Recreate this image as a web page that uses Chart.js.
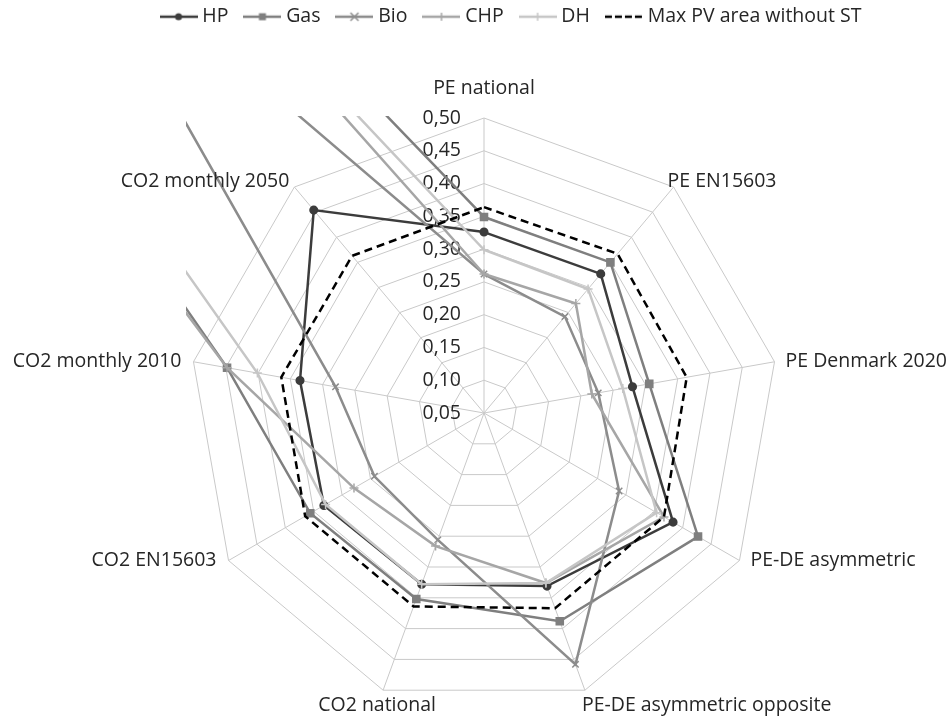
<!DOCTYPE html>
<html>
<head>
<meta charset="utf-8">
<title>Radar</title>
<script src="https://cdn.jsdelivr.net/npm/chart.js@4.4.1/dist/chart.umd.min.js"></script>
<style>
  html, body { margin: 0; padding: 0; background: #fff; }
  #wrap { width: 952px; height: 717px; position: relative; }
</style>
</head>
<body>
<div id="wrap"><canvas id="radarChart"></canvas></div>
<script>
// 轴标签（九个指标）
const axisLabels = [
    'PE national', 'PE EN15603', 'PE Denmark 2020', 'PE-DE asymmetric',
    'PE-DE asymmetric opposite', 'CO2 national', 'CO2 EN15603',
    'CO2 monthly 2010', 'CO2 monthly 2050'
];

// 刻度标签（0,05 在中心）
const tickLabels = ['0,05', '0,10', '0,15', '0,20', '0,25', '0,30', '0,35', '0,40', '0,45', '0,50'];

// 各系列数值
const hpValues  = [0.326, 0.327, 0.280, 0.383, 0.331, 0.328, 0.332, 0.335, 0.454];
const gasValues = [0.349, 0.350, 0.306, 0.427, 0.388, 0.352, 0.356, 0.448, 3.10];
const bioValues = [0.262, 0.242, 0.227, 0.288, 0.458, 0.256, 0.243, 0.280, 1.03];
const chpValues = [0.262, 0.268, 0.217, 0.367, 0.326, 0.266, 0.279, 0.448, 5.00];
const dhValues  = [0.299, 0.297, 0.265, 0.354, 0.326, 0.328, 0.329, 0.401, 3.00];
const maxPvValues = [0.364, 0.367, 0.364, 0.367, 0.367, 0.364, 0.365, 0.364, 0.363];

const seriesNames = ['HP', 'Gas', 'Bio', 'CHP', 'DH', 'Max PV area without ST'];
const seriesData = [hpValues, gasValues, bioValues, chpValues, dhValues, maxPvValues];

// 样式
const FONT = "'Open Sans', sans-serif";
const FONT_SIZE = 19.5;
const TEXT_COLOR = '#262626';
const seriesColors = ['#3c3c3c', '#7f7f7f', '#8c8c8c', '#a6a6a6', '#c6c6c6', '#000000'];
const seriesMarkers = ['circle', 'rect', 'crossRot', 'cross', 'cross', false];
const markerRadius = { circle: 3.8, rect: 5, crossRot: 4.5, cross: 4.5 };

// 轴标签相对顶点的偏移
const labelOffsets = [
    [0, -30, 'center'], [-6, -6, 'left'], [11, 0, 'left'], [11, 0, 'left'],
    [-3, 15, 'left'], [-6, 15, 'center'], [-12, 0, 'right'], [-12, 0, 'right'], [-5, -6, 'right']
];

// 图例图标：线段加标记
function makeLegendIcon(color, marker, dashed) {
    const c = document.createElement('canvas');
    c.width = 38;
    c.height = 14;
    const g = c.getContext('2d');
    g.strokeStyle = color;
    g.fillStyle = color;
    g.lineWidth = 2.5;
    if (dashed) g.setLineDash([7, 3]);
    g.beginPath();
    g.moveTo(0, 7);
    g.lineTo(38, 7);
    g.stroke();
    g.setLineDash([]);
    const x = 19, y = 7;
    if (marker === 'circle') {
        g.beginPath();
        g.arc(x, y, 3.5, 0, Math.PI * 2);
        g.fill();
    } else if (marker === 'rect') {
        g.fillRect(x - 3.5, y - 3.5, 7, 7);
    } else if (marker === 'crossRot') {
        g.lineWidth = 1.5;
        g.beginPath();
        g.moveTo(x - 4, y - 4); g.lineTo(x + 4, y + 4);
        g.moveTo(x + 4, y - 4); g.lineTo(x - 4, y + 4);
        g.stroke();
    } else if (marker === 'cross') {
        g.lineWidth = 1.5;
        g.beginPath();
        g.moveTo(x, y - 4); g.lineTo(x, y + 4);
        g.moveTo(x - 4, y); g.lineTo(x + 4, y);
        g.stroke();
    }
    return c;
}

const legendIcons = seriesNames.map((n, i) => makeLegendIcon(seriesColors[i], seriesMarkers[i], i === 5));

// 后面的系列画在上层（与原图一致）
const datasets = seriesNames.map((name, i) => ({
    label: name,
    data: seriesData[i],
    borderColor: seriesColors[i],
    backgroundColor: seriesColors[i],
    borderWidth: 2.5,
    borderDash: i === 5 ? [8, 5] : [],
    pointStyle: seriesMarkers[i] || false,
    pointRadius: seriesMarkers[i] ? markerRadius[seriesMarkers[i]] : 0,
    pointBorderWidth: 1.5,
    pointBorderColor: seriesColors[i],
    pointBackgroundColor: seriesColors[i],
    fill: false,
    tension: 0,
    order: seriesNames.length - 1 - i
}));

// 给图例留出上方空间并微调位置
const legendSpace = {
    id: 'legendSpace',
    beforeInit(chart) {
        const fit = chart.legend.fit;
        chart.legend.fit = function () {
            fit.call(this);
            this.height = 118;
        };
    },
    afterLayout(chart) {
        const lg = chart.legend;
        lg.left += 29;
        lg.right += 29;
        lg.top -= 13;
    }
};

// 刻度数字画在竖轴左侧，轴名画在外圈
const radarText = {
    id: 'radarText',
    beforeDatasetsDraw(chart) {
        const s = chart.scales.r;
        const ctx = chart.ctx;
        ctx.save();
        ctx.font = FONT_SIZE + 'px ' + FONT;
        ctx.fillStyle = TEXT_COLOR;
        ctx.textAlign = 'right';
        ctx.textBaseline = 'middle';
        s.ticks.forEach((t, i) => {
            const d = s.getDistanceFromCenterForValue(t.value);
            ctx.fillText(tickLabels[i], s.xCenter - 23, s.yCenter - d);
        });
        ctx.restore();
    },
    afterDraw(chart) {
        const s = chart.scales.r;
        const ctx = chart.ctx;
        ctx.save();
        ctx.font = FONT_SIZE + 'px ' + FONT;
        ctx.fillStyle = TEXT_COLOR;
        ctx.textBaseline = 'middle';
        axisLabels.forEach((label, i) => {
            const p = s.getPointPosition(i, s.drawingArea);
            const off = labelOffsets[i];
            ctx.textAlign = off[2];
            ctx.fillText(label, p.x + off[0], p.y + off[1]);
        });
        ctx.restore();
    }
};

// 超出范围的线只在雷达外接正方形内显示
const clipToPlot = {
    id: 'clipToPlot',
    beforeDatasetsDraw(chart) {
        const s = chart.scales.r;
        const ctx = chart.ctx;
        ctx.save();
        ctx.beginPath();
        ctx.rect(s.xCenter - s.drawingArea - 3, s.yCenter - s.drawingArea - 2,
            s.drawingArea * 2 + 6, s.drawingArea * 2 + 4);
        ctx.clip();
    },
    afterDatasetsDraw(chart) {
        chart.ctx.restore();
    }
};

document.addEventListener('DOMContentLoaded', function () {
    const ctx = document.getElementById('radarChart').getContext('2d');
    window.radarChart = new Chart(ctx, {
        type: 'radar',
        data: {
            labels: axisLabels,
            datasets: datasets
        },
        options: {
            responsive: true,
            maintainAspectRatio: false,
            animation: false,
            layout: { padding: { left: 16, right: 0, top: 0, bottom: 8 } },
            scales: {
                r: {
                    min: 0.05,
                    max: 0.5,
                    ticks: { stepSize: 0.05, display: false },
                    grid: { color: '#c9c9c9', lineWidth: 1 },
                    angleLines: { color: '#c9c9c9', lineWidth: 1 },
                    pointLabels: { display: false }
                }
            },
            plugins: {
                tooltip: { enabled: false },
                legend: {
                    position: 'top',
                    labels: {
                        usePointStyle: true,
                        pointStyleWidth: 28,
                        padding: 20,
                        color: TEXT_COLOR,
                        font: { family: FONT, size: FONT_SIZE },
                        // 图例按系列原顺序排列，图标用线段加标记
                        generateLabels(chart) {
                            const items = Chart.defaults.plugins.legend.labels.generateLabels(chart);
                            items.sort((a, b) => a.datasetIndex - b.datasetIndex);
                            items.forEach(it => { it.pointStyle = legendIcons[it.datasetIndex]; });
                            return items;
                        }
                    }
                }
            }
        },
        plugins: [legendSpace, radarText, clipToPlot]
    });
});
</script>
</body>
</html>
